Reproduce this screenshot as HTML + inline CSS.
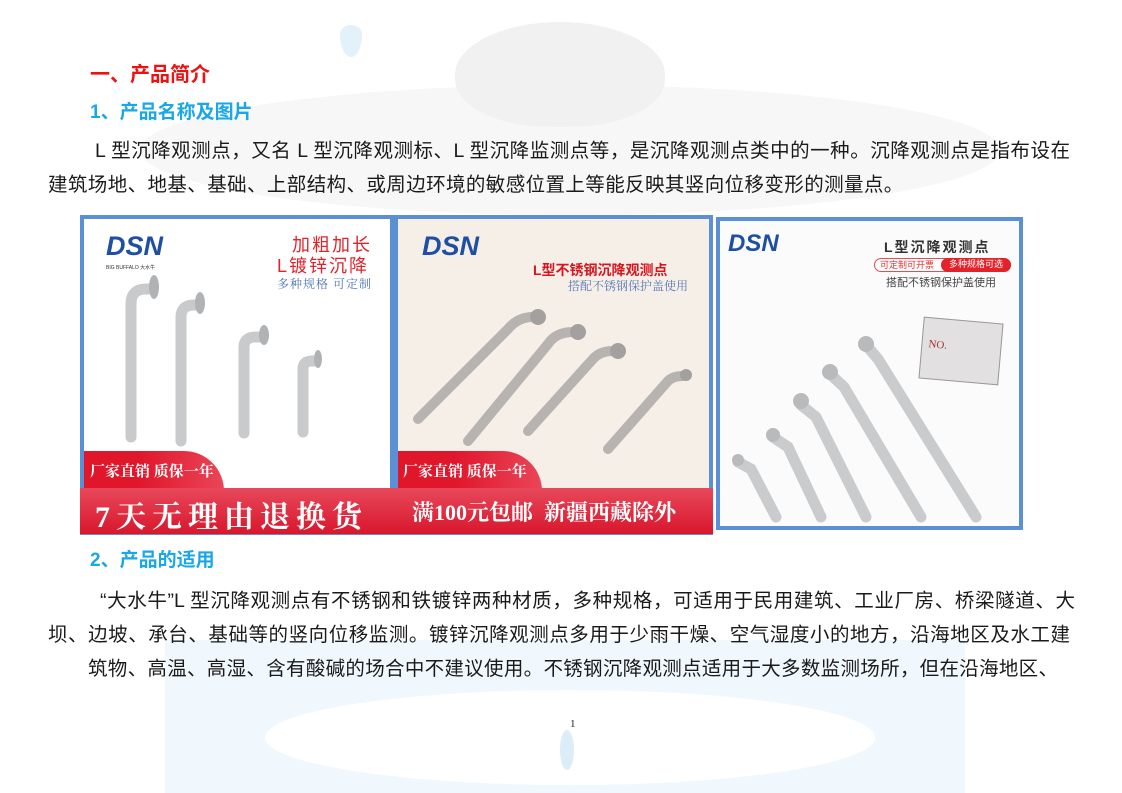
<!DOCTYPE html>
<html><head><meta charset="utf-8">
<style>
*{margin:0;padding:0;box-sizing:border-box}
body{width:1122px;height:793px;position:relative;overflow:hidden;background:#fff;font-family:"Liberation Sans","Noto Sans CJK SC",sans-serif}
.a{position:absolute;white-space:nowrap}
.t{font-size:19.5px;color:#1a1a1a;line-height:24px}
.j{text-align:justify;text-align-last:justify;white-space:normal;overflow:hidden;height:26px}
.h2{font-size:19px;font-weight:bold;color:#1aa7e6}
.panel{position:absolute;background:#fff;overflow:hidden}
.serif{font-family:"Liberation Serif","Noto Serif CJK SC",serif}
</style></head><body>
<div class="a" style="left:165px;top:640px;width:800px;height:153px;background:#f1f8fd"></div>
<div class="a" style="left:265px;top:690px;width:610px;height:95px;border-radius:50%;background:#fff"></div>
<div class="a" style="left:140px;top:85px;width:860px;height:130px;border-radius:50%;background:#f7f7f7"></div>
<div class="a" style="left:455px;top:22px;width:210px;height:105px;border-radius:50% 50% 45% 45%;background:#f1f1f1"></div>
<div class="a" style="left:340px;top:25px;width:22px;height:32px;border-radius:50% 50% 50% 50%/30% 30% 70% 70%;background:#e2f1fa"></div>
<div class="a" style="left:560px;top:730px;width:14px;height:40px;border-radius:50%;background:#dcedf8"></div>

<div class="a" style="left:90px;top:58px;font-size:20px;font-weight:bold;color:#f01010">一、产品简介</div>
<div class="a h2" style="left:90px;top:97px">1、产品名称及图片</div>
<div class="a t j" style="left:95px;top:139px;width:975px">L 型沉降观测点，又名 L 型沉降观测标、L 型沉降监测点等，是沉降观测点类中的一种。沉降观测点是指布设在</div>
<div class="a t" style="left:48px;top:173px;letter-spacing:0.4px">建筑场地、地基、基础、上部结构、或周边环境的敏感位置上等能反映其竖向位移变形的测量点。</div>

<div class="a" style="left:80px;top:215px;width:633px;height:320px;background:#5b90d4"></div>
<div class="panel" style="left:84px;top:219px;width:306px;height:314px">
  <div class="a" style="left:22px;top:12px;font-size:27px;font-weight:bold;font-style:italic;color:#1f4fa3">DSN</div>
  <div class="a" style="left:22px;top:45px;font-size:5px;color:#333">BIG BUFFALO 大水牛</div>
  <div class="a" style="left:208px;top:12px;font-size:18px;color:#e3232b;letter-spacing:2px">加粗加长</div>
  <div class="a" style="left:193px;top:33px;font-size:18px;color:#e3232b;letter-spacing:2px">L镀锌沉降</div>
  <div class="a serif" style="left:193px;top:56px;font-size:12px;color:#4a73b8;letter-spacing:1px">多种规格 可定制</div>
  <svg class="a" style="left:0;top:0" width="306" height="314">
   <g fill="none" stroke="#c8cacc" stroke-linecap="round" stroke-width="11">
    <path d="M47 218 V85 Q47 70 62 70 H68"/><path d="M97 222 V98 Q97 86 110 86 H114"/>
    <path d="M160 214 V128 Q160 118 172 118 H178"/><path d="M219 213 V150 Q219 142 228 142 H232"/>
   </g>
   <g fill="#b0b2b4"><ellipse cx="70" cy="68" rx="5" ry="12"/><ellipse cx="116" cy="84" rx="5" ry="11"/><ellipse cx="180" cy="116" rx="5" ry="10"/><ellipse cx="234" cy="140" rx="4" ry="9"/></g>
  </svg>
  <div class="a" style="left:-4px;top:232px;width:144px;height:42px;border-radius:0 40px 0 0;background:linear-gradient(90deg,#e0162b 40%,#ea4558)"></div>
  <div class="a serif" style="left:6px;top:241px;font-size:15px;color:#fff;font-weight:bold">厂家直销 质保一年</div>
</div>
<div class="panel" style="left:398px;top:219px;width:311px;height:314px;background:#f6efe8">
  <div class="a" style="left:24px;top:12px;font-size:27px;font-weight:bold;font-style:italic;color:#1f4fa3">DSN</div>
  <div class="a" style="left:135px;top:41px;font-size:14px;font-weight:bold;color:#d8141f">L型不锈钢沉降观测点</div>
  <div class="a serif" style="left:170px;top:58px;font-size:12px;color:#5a78b4">搭配不锈钢保护盖使用</div>
  <svg class="a" style="left:0;top:0" width="311" height="314">
   <g fill="none" stroke="#b7b3b0" stroke-linecap="round" stroke-width="10">
    <path d="M20 200 L110 110 Q120 98 135 98"/><path d="M70 222 L150 125 Q158 113 175 113"/>
    <path d="M130 212 L195 140 Q202 132 215 132"/><path d="M210 230 L270 162 Q275 157 285 157"/>
   </g>
   <g fill="#a3a19f"><circle cx="140" cy="98" r="8"/><circle cx="180" cy="113" r="8"/><circle cx="220" cy="132" r="8"/><circle cx="288" cy="156" r="6"/></g>
  </svg>
  <div class="a" style="left:-4px;top:232px;width:148px;height:42px;border-radius:0 40px 0 0;background:linear-gradient(90deg,#e0162b 40%,#ea4558)"></div>
  <div class="a serif" style="left:5px;top:241px;font-size:15px;color:#fff;font-weight:bold">厂家直销 质保一年</div>
</div>
<div class="a" style="left:80px;top:488px;width:633px;height:46px;background:linear-gradient(180deg,#e8485b,#d8172d)"></div>
<div class="a serif" style="left:95px;top:492px;font-size:30px;font-weight:bold;color:#fff;letter-spacing:6px">7天无理由退换货</div>
<div class="a serif" style="left:412px;top:496px;font-size:22px;font-weight:bold;color:#fff">满100元包邮&nbsp; 新疆西藏除外</div>

<div class="a" style="left:716px;top:217px;width:307px;height:313px;border:4px solid #5b90d4;background:#fbfbfc"></div>
<div class="a" style="left:728px;top:230px;font-size:24px;font-weight:bold;font-style:italic;color:#1f4fa3">DSN</div>
<div class="a" style="left:884px;top:237px;font-size:14px;font-weight:bold;color:#333;letter-spacing:2px">L型沉降观测点</div>
<div class="a" style="left:874px;top:258px;width:137px;height:14px;border:1px solid #e35050;border-radius:7px;font-size:9px;color:#d33;padding-left:5px;line-height:12px">可定制可开票<span style="position:absolute;left:66px;top:-1px;width:70px;height:14px;background:#e3232b;color:#fff;border-radius:7px;text-align:center">多种规格可选</span></div>
<div class="a" style="left:886px;top:274px;font-size:11px;color:#444">搭配不锈钢保护盖使用</div>
<div class="a serif" style="left:921px;top:320px;width:80px;height:62px;background:#e2e0e0;border:1px solid #999;transform:rotate(5deg);font-size:11px;color:#a33;padding:20px 0 0 6px">NO.</div>
<svg class="a" style="left:716px;top:217px" width="307" height="313">
 <g fill="none" stroke="#c9cbcd" stroke-linecap="round" stroke-width="11">
  <path d="M22 245 L35 252 L60 300"/><path d="M57 220 L72 230 L105 300"/><path d="M85 188 L100 200 L150 300"/><path d="M114 157 L128 170 L205 300"/><path d="M150 128 L162 142 L260 300"/>
 </g>
 <g fill="#b8babc"><circle cx="22" cy="243" r="6"/><circle cx="57" cy="218" r="7"/><circle cx="85" cy="184" r="8"/><circle cx="114" cy="155" r="8"/><circle cx="150" cy="127" r="8"/></g>
</svg>

<div class="a h2" style="left:90px;top:545px">2、产品的适用</div>
<div class="a t j" style="left:100px;top:589px;width:975px">“大水牛”L 型沉降观测点有不锈钢和铁镀锌两种材质，多种规格，可适用于民用建筑、工业厂房、桥梁隧道、大</div>
<div class="a t j" style="left:48px;top:623px;width:1022px">坝、边坡、承台、基础等的竖向位移监测。镀锌沉降观测点多用于少雨干燥、空气湿度小的地方，沿海地区及水工建</div>
<div class="a t j" style="left:88px;top:657px;width:970px">筑物、高温、高湿、含有酸碱的场合中不建议使用。不锈钢沉降观测点适用于大多数监测场所，但在沿海地区、</div>
<div class="a serif" style="left:570px;top:718px;font-size:11px;color:#222">1</div>
</body></html>
